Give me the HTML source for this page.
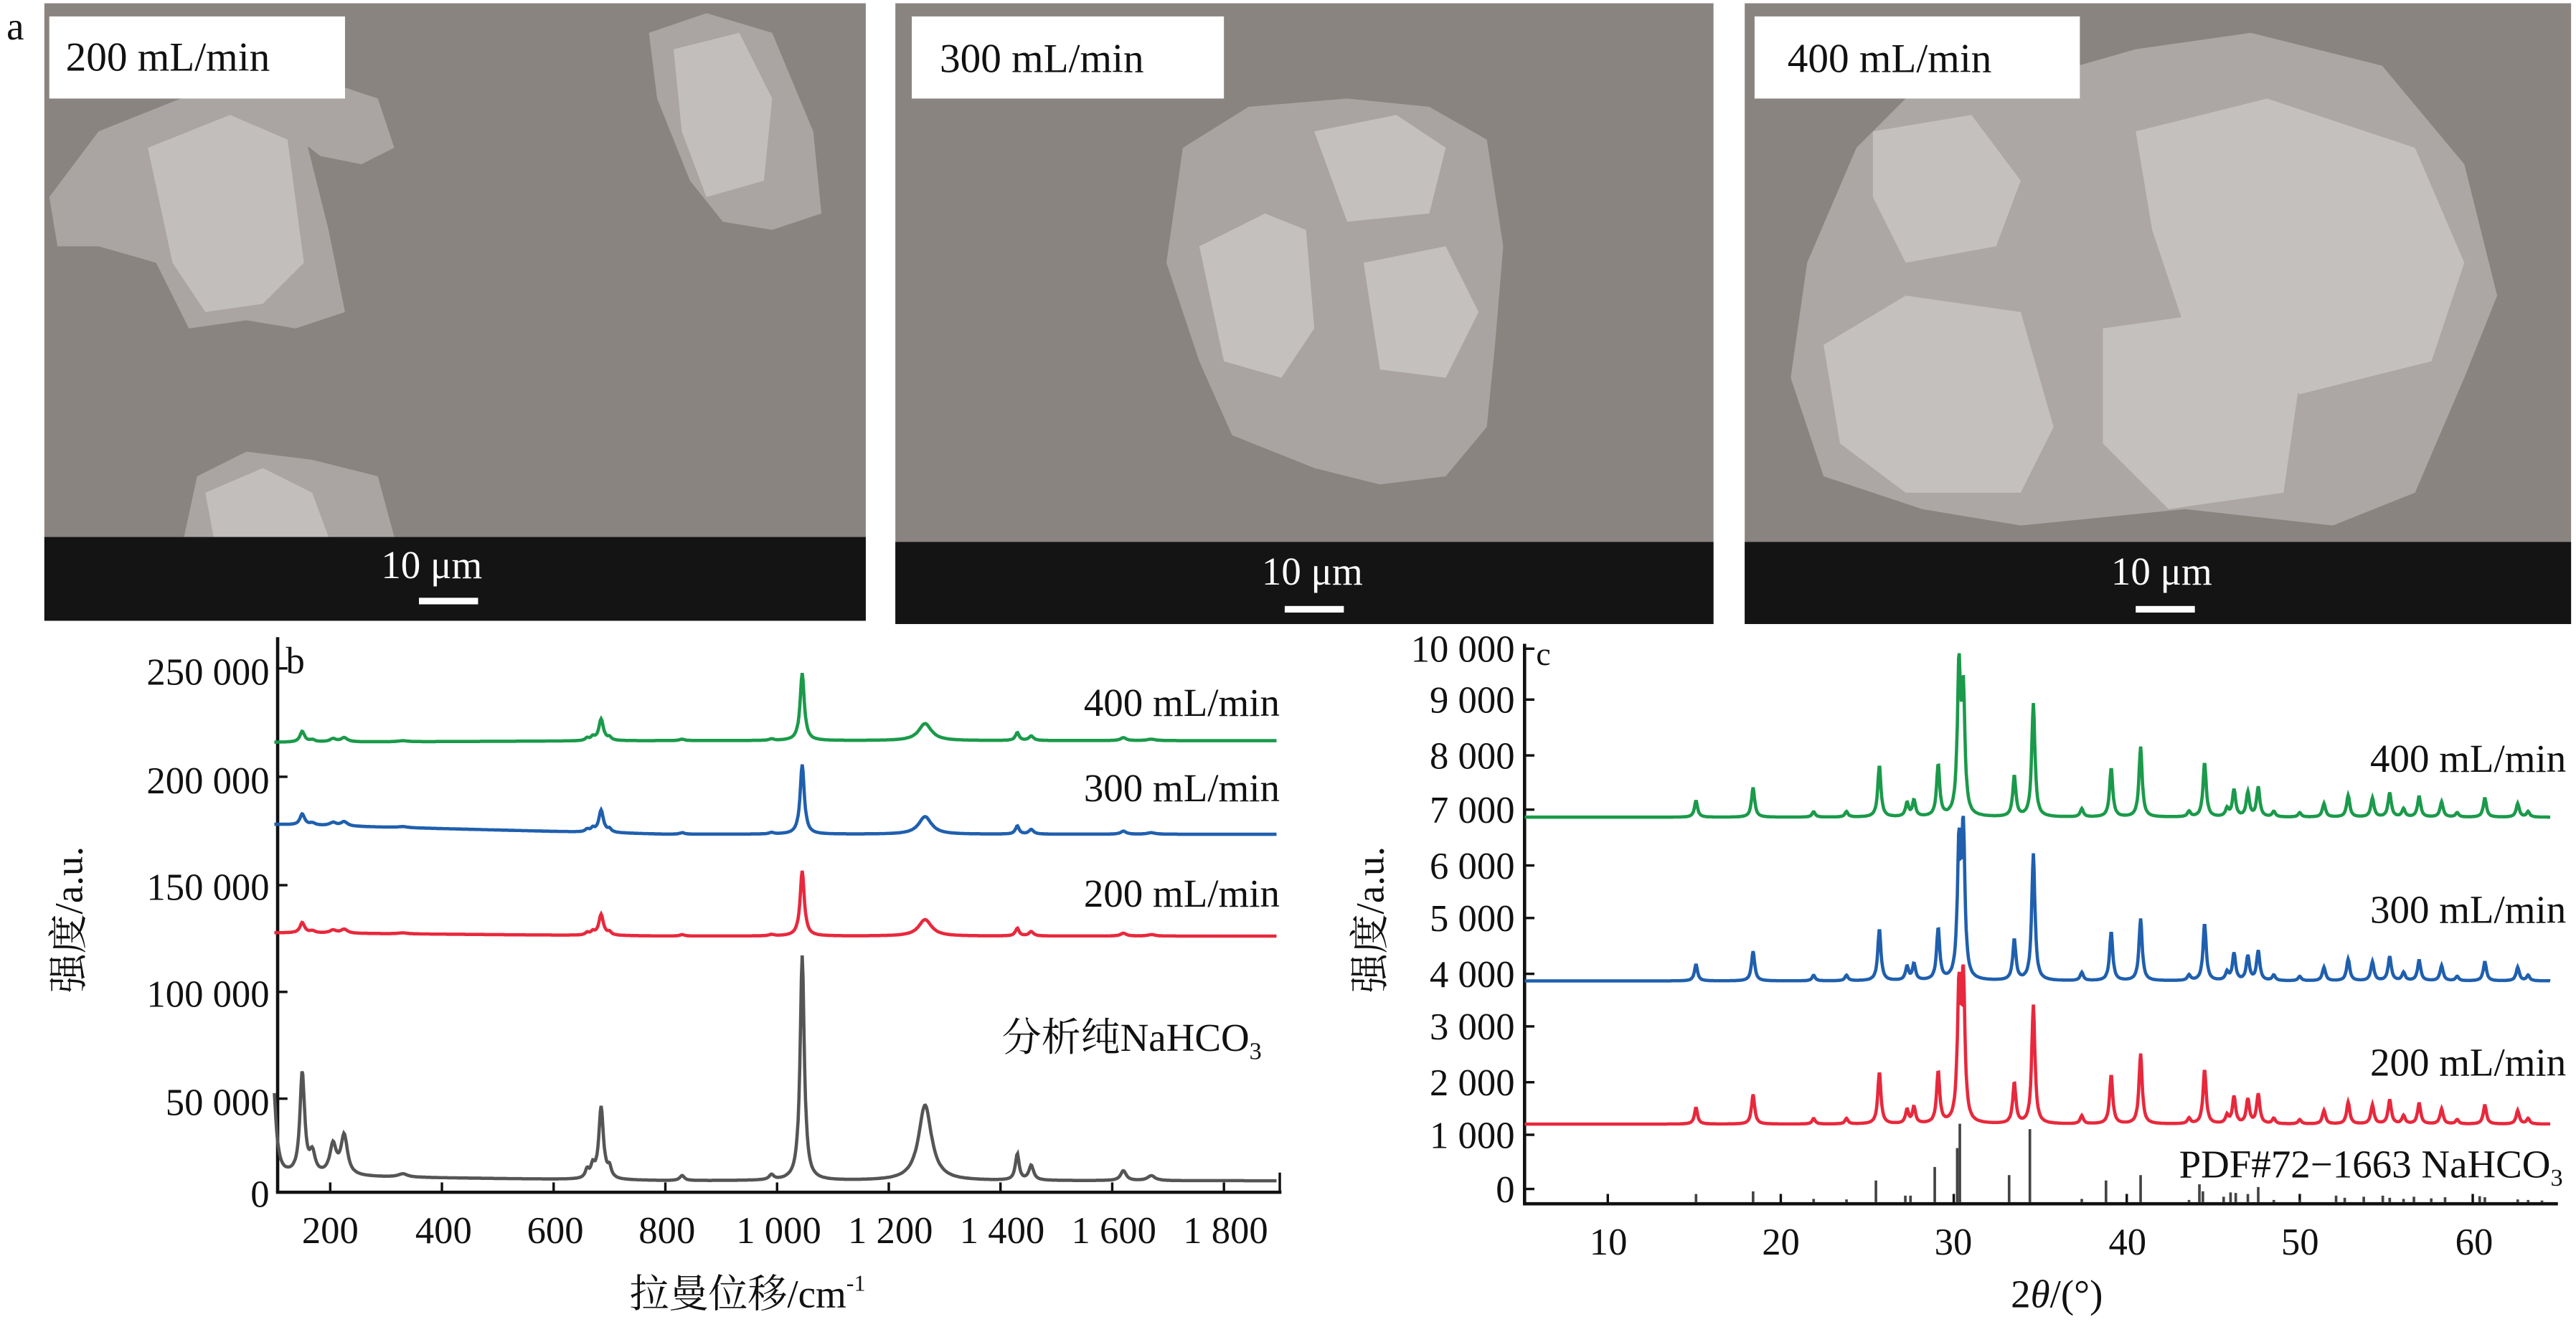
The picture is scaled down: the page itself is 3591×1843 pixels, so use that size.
<!DOCTYPE html>
<html><head><meta charset="utf-8">
<style>
html,body{margin:0;padding:0;background:#fff;}
svg{display:block;}
text{font-family:"Liberation Serif","Noto Serif CJK SC",serif;fill:#111;}
</style></head>
<body>
<svg id="s" xmlns="http://www.w3.org/2000/svg" width="3591" height="1843" viewBox="0 0 1568 805" preserveAspectRatio="none">
<rect width="1568" height="805" fill="#fff"/>
<text x="4" y="24" font-size="24">a</text>
<!-- SEM panel 1 -->
<rect x="27" y="2" width="500" height="376" fill="#8a8481"/>
<g fill="#aaa5a2">
<polygon points="30,120 60,80 110,60 150,55 185,80 200,140 210,190 180,200 150,195 115,200 95,160 60,150 35,150"/>
<polygon points="150,60 200,50 230,60 240,90 220,100 195,95"/>
<polygon points="395,20 430,8 470,20 495,80 500,130 470,140 440,135 420,110 400,60"/>
<polygon points="112,327 120,290 150,275 190,280 230,290 240,327"/>
</g>
<g fill="#c2bebb">
<polygon points="90,90 140,70 175,85 185,160 160,185 125,190 105,160"/>
<polygon points="410,30 450,20 470,60 465,110 430,120 415,80"/>
<polygon points="125,300 160,285 190,300 200,327 130,327"/>
</g>
<rect x="27" y="327" width="500" height="51" fill="#141414"/>
<rect x="30" y="10" width="180" height="50" fill="#fff"/>
<text x="40" y="43" font-size="25">200 mL/min</text>
<text x="232" y="352" font-size="24" style="fill:#fff">10 μm</text>
<rect x="255" y="364" width="36" height="4" fill="#fff"/>
<!-- SEM panel 2 -->
<rect x="545" y="2" width="498" height="378" fill="#8a8481"/>
<g fill="#a9a4a1">
<polygon points="720,90 760,65 820,60 870,65 905,85 915,150 910,210 905,260 880,290 840,295 800,285 750,265 730,220 710,160"/>
</g>
<g fill="#c4c0bd">
<polygon points="730,150 770,130 795,140 800,200 780,230 745,220"/>
<polygon points="800,80 850,70 880,90 870,130 820,135"/>
<polygon points="830,160 880,150 900,190 880,230 840,225"/>
</g>
<rect x="545" y="330" width="498" height="50" fill="#141414"/>
<rect x="555" y="10" width="190" height="50" fill="#fff"/>
<text x="572" y="44" font-size="25">300 mL/min</text>
<text x="768" y="356" font-size="24" style="fill:#fff">10 μm</text>
<rect x="782" y="369" width="36" height="4" fill="#fff"/>
<!-- SEM panel 3 -->
<rect x="1062" y="2" width="503" height="378" fill="#8a8481"/>
<g fill="#aca7a4">
<polygon points="1100,160 1130,90 1160,60 1230,50 1300,30 1370,20 1450,40 1500,100 1520,180 1500,230 1470,300 1420,320 1330,310 1230,320 1170,310 1110,290 1090,230"/>
</g>
<g fill="#c4c0bd">
<polygon points="1300,80 1380,60 1470,90 1500,160 1480,220 1400,240 1330,200 1310,140"/>
<polygon points="1110,210 1160,180 1230,190 1250,260 1230,300 1160,300 1120,270"/>
<polygon points="1140,80 1200,70 1230,110 1215,150 1160,160 1140,120"/>
<polygon points="1280,200 1350,190 1400,230 1390,300 1320,310 1280,270"/>
</g>
<rect x="1062" y="330" width="503" height="50" fill="#141414"/>
<rect x="1068" y="10" width="198" height="50" fill="#fff"/>
<text x="1088" y="44" font-size="25">400 mL/min</text>
<text x="1285" y="356" font-size="24" style="fill:#fff">10 μm</text>
<rect x="1300" y="369" width="36" height="4" fill="#fff"/>

<!-- Chart b -->
<g id="b">
<line x1="169" y1="388" x2="169" y2="726" stroke="#111" stroke-width="2"/>
<line x1="168" y1="726" x2="780" y2="726" stroke="#111" stroke-width="2"/>
<line x1="779" y1="714" x2="779" y2="726" stroke="#111" stroke-width="1.5"/>
<g font-size="23" text-anchor="end">
<text x="164" y="417">250 000</text>
<text x="164" y="483">200 000</text>
<text x="164" y="548">150 000</text>
<text x="164" y="613">100 000</text>
<text x="164" y="679">50 000</text>
<text x="164" y="735">0</text>
</g>
<text x="174" y="410" font-size="23">b</text>
<g font-size="23" text-anchor="middle">
<text x="201" y="757">200</text><text x="270" y="757">400</text><text x="338" y="757">600</text>
<text x="406" y="757">800</text><text x="474" y="757">1 000</text><text x="542" y="757">1 200</text>
<text x="610" y="757">1 400</text><text x="678" y="757">1 600</text><text x="746" y="757">1 800</text>
</g>
<text x="455" y="796" font-size="24" text-anchor="middle">拉曼位移/cm<tspan font-size="14" dy="-10">-1</tspan></text>
<text transform="translate(50,560) rotate(-90)" font-size="24" text-anchor="middle">强度/a.u.</text>
<g font-size="24" text-anchor="end">
<text x="779" y="436">400 mL/min</text>
<text x="779" y="488">300 mL/min</text>
<text x="779" y="552">200 mL/min</text>
<text x="768" y="640">分析纯NaHCO<tspan font-size="15" dy="5">3</tspan></text>
</g>
</g>

<!-- Chart c -->
<g id="c">
<line x1="928" y1="392" x2="928" y2="733" stroke="#111" stroke-width="2"/>
<line x1="927" y1="733" x2="1557" y2="733" stroke="#111" stroke-width="2"/>
<line x1="928" y1="395" x2="934" y2="395" stroke="#111" stroke-width="1.5"/>
<g font-size="23" text-anchor="end">
<text x="922" y="403">10 000</text><text x="922" y="434">9 000</text><text x="922" y="468">8 000</text>
<text x="922" y="501">7 000</text><text x="922" y="535">6 000</text><text x="922" y="567">5 000</text>
<text x="922" y="601">4 000</text><text x="922" y="633">3 000</text><text x="922" y="667">2 000</text>
<text x="922" y="699">1 000</text><text x="922" y="732">0</text>
</g>
<text x="935" y="405" font-size="20">c</text>
<g font-size="23" text-anchor="middle">
<text x="979" y="764">10</text><text x="1084" y="764">20</text><text x="1189" y="764">30</text>
<text x="1295" y="764">40</text><text x="1400" y="764">50</text><text x="1506" y="764">60</text>
</g>
<text x="1252" y="796" font-size="24" text-anchor="middle">2<tspan font-style="italic">θ</tspan>/(°)</text>
<text transform="translate(842,560) rotate(-90)" font-size="24" text-anchor="middle">强度/a.u.</text>
<g font-size="24" text-anchor="end">
<text x="1562" y="470">400 mL/min</text>
<text x="1562" y="562">300 mL/min</text>
<text x="1562" y="655">200 mL/min</text>
<text x="1560" y="717">PDF#72−1663 NaHCO<tspan font-size="15" dy="5">3</tspan></text>
</g>
</g>
</svg>
<script>
(function(){
var s=document.getElementById('s'),NS='http://www.w3.org/2000/svg';
function add(tag,attrs,parent){var e=document.createElementNS(NS,tag);for(var k in attrs)e.setAttribute(k,attrs[k]);(parent||s).appendChild(e);return e;}
var gb=document.getElementById('b');
[200,400,600,800,1000,1200,1400,1600,1800].forEach(function(v){var x=167+(v-100)*0.34;add('line',{x1:x,y1:726,x2:x,y2:720,stroke:'#111','stroke-width':1.5},gb);});
[407,473,539,604,669].forEach(function(y){add('line',{x1:169,y1:y,x2:175,y2:y,stroke:'#111','stroke-width':1.5},gb);});
function lor(x,c,h,w){var d=(x-c)/w;return h/(1+d*d);}
function raman(peaks,base0,base1,col,sw){
 var d='';for(var v=100;v<=1895;v+=1.5){var y=base0+(base1-base0)*Math.min(1,(v-100)/700);
 peaks.forEach(function(p){y-=lor(v,p[0],p[1],p[2]);});
 var x=167+(v-100)*0.34;d+=(d?'L':'M')+x.toFixed(1)+','+y.toFixed(1);}
 add('path',{d:d,fill:'none',stroke:col,'stroke-width':sw},gb);}
var blk=[[98,55,6],[150,62,5],[168,12,6],[205,18,7],[225,24,7],[330,2,10],[660,5,4],[670,7,4],[685,44,5],[700,6,4],[830,3,5],[990,3,5],[1045,137,4.5],[1265,46,14],[1430,16,4],[1455,9,5],[1620,6,6],[1670,3,8]];
function scaled(f){return blk.filter(function(p){return p[0]>120;}).map(function(p){var g=f;if(p[0]<300)g=f*0.35;else if(p[0]>1200&&p[0]<1300)g=f*0.75;return [p[0],p[1]*g,p[2]];});}
raman(scaled(0.30),452,451,'#1a9a4a',2);
raman(scaled(0.31),502,508,'#1f5fae',2);
raman(scaled(0.29),568,570,'#e8283c',2);
raman(blk,716,719,'#555',2);
var gc=document.getElementById('c');
[10,20,30,40,50,60].forEach(function(v){var x=926+(v-5)*10.53;add('line',{x1:x,y1:733,x2:x,y2:727,stroke:'#111','stroke-width':1.5},gc);});
[426,460,493,527,559,593,625,659,691,724].forEach(function(y){add('line',{x1:928,y1:y,x2:934,y2:y,stroke:'#111','stroke-width':1.5},gc);});
var xp=[[15.1,300],[18.4,550],[21.9,100],[23.8,100],[25.7,950],[27.3,250],[27.7,300],[29.1,950],[30.3,2400],[30.55,2600],[33.5,750],[34.6,2200],[37.4,150],[39.1,900],[40.8,1300],[43.6,100],[44.5,1000],[45.8,150],[46.2,500],[47.0,450],[47.6,550],[48.5,100],[50.0,80],[51.4,250],[52.8,400],[54.2,350],[55.2,450],[56.0,150],[56.9,380],[58.2,280],[59.1,80],[60.7,350],[62.6,250],[63.2,100]];
function yv(v){return 724-v*0.0329;}
function xrd(base,mods,col){
 var d='';for(var t=5.2;t<=64.5;t+=0.04){var v=base;
 xp.forEach(function(p){var h=p[1];if(mods[p[0]]!==undefined)h=mods[p[0]];v+=lor(t,p[0],h,0.11);});
 var x=926+(t-5)*10.53;d+=(d?'L':'M')+x.toFixed(1)+','+yv(v).toFixed(1);}
 add('path',{d:d,fill:'none',stroke:col,'stroke-width':2},gc);}
xrd(6880,{30.3:2700,30.55:2200,34.6:2100},'#1a9a4a');
xrd(3850,{30.3:2400,30.55:2700,34.6:2350,40.8:1150,44.5:1050},'#1f5fae');
xrd(1200,{},'#e8283c');
var st=[[15.1,150],[18.4,200],[21.9,60],[23.8,50],[25.5,400],[27.2,120],[27.5,120],[28.9,650],[30.2,1000],[30.35,1450],[33.2,500],[34.4,1350],[37.4,60],[38.8,400],[40.8,500],[43.6,40],[44.2,330],[44.4,200],[45.6,100],[46.0,180],[46.3,170],[47.0,150],[47.6,280],[48.5,40],[50.0,40],[52.1,120],[52.6,80],[53.7,100],[54.8,120],[55.2,80],[56.0,60],[56.6,100],[57.6,70],[58.4,90],[60.4,110],[60.7,90],[62.6,50],[63.2,40],[64.0,30]];
st.forEach(function(p){var x=926+(p[0]-5)*10.53;add('line',{x1:x,y1:732,x2:x,y2:732-p[1]*0.0329,stroke:'#444','stroke-width':1.6},gc);});
})();
</script>
</body></html>
